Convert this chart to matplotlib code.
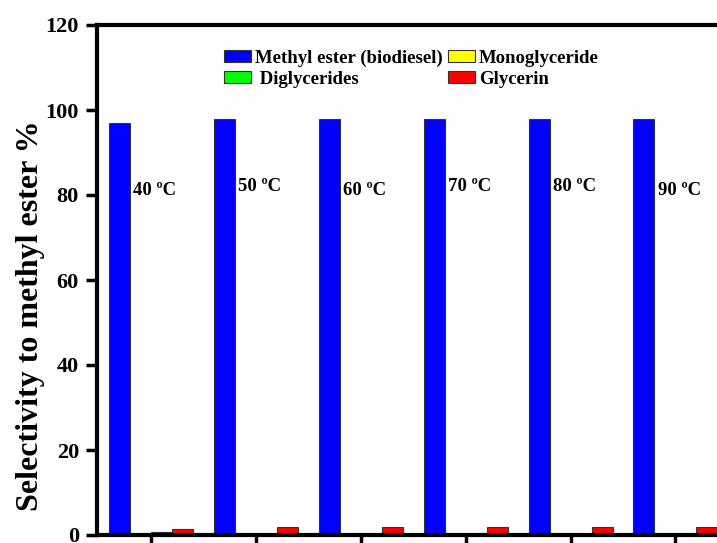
import matplotlib
matplotlib.use("Agg")
import matplotlib.pyplot as plt
import numpy as np

plt.rcParams['font.family'] = ['Liberation Serif', 'DejaVu Serif']
plt.rcParams['font.weight'] = 'bold'

temps = ['40 ºC', '50 ºC', '60 ºC', '70 ºC', '80 ºC', '90 ºC']
methyl_ester = [97, 98, 98, 98, 98, 98]
monoglyceride = [0, 0, 0, 0, 0, 0]
diglycerides = [0.6, 0, 0, 0, 0, 0]
glycerin = [1.3, 1.9, 1.9, 1.9, 1.9, 1.9]
label_y = [81, 82, 81, 82, 82, 81]

series = [
    ('Methyl ester (biodiesel)', methyl_ester, '#0000ff'),
    ('Monoglyceride', monoglyceride, '#ffff00'),
    (' Diglycerides', diglycerides, '#00ff00'),
    ('Glycerin', glycerin, '#ff0000'),
]

fig = plt.figure(figsize=(7.17, 5.43), dpi=100)
ax = fig.add_axes([97 / 717, 8 / 543, 1.0 - 97 / 717 + 0.002, 510 / 543])

x = np.arange(len(temps))
w = 0.2
handles = {}
for i, (name, vals, col) in enumerate(series):
    h = ax.bar(x + (i - 1.5) * w, vals, w, color=col, edgecolor='#333333',
               linewidth=0.8, label=name)
    handles[name] = h

for xi, t, ly in zip(x, temps, label_y):
    ax.text(xi - w + 0.03, ly, t, fontsize=13.5, fontweight='bold',
            ha='left', va='center')

ax.set_xlim(-0.516, 5.41)
ax.set_ylim(0, 120)
ax.set_yticks(np.arange(0, 121, 20))
ax.set_xticks(x)
ax.set_xticklabels([])
ax.tick_params(axis='both', direction='out', width=2.5, length=8,
               labelsize=16, pad=5)
ax.spines['right'].set_visible(False)
for s in ['left', 'top', 'bottom']:
    ax.spines[s].set_linewidth(3)
ax.set_ylabel('Selectivity to methyl ester %', fontsize=23,
              fontweight='bold')
ax.yaxis.set_label_coords(-0.083, 0.43)

order = ['Methyl ester (biodiesel)', ' Diglycerides', 'Monoglyceride', 'Glycerin']
ax.legend([handles[k] for k in order], order, ncol=2, frameon=False,
          fontsize=13.5, loc='upper left', bbox_to_anchor=(0.177, 0.985),
          handlelength=1.45, handleheight=0.65, columnspacing=0.3,
          handletextpad=0.2, labelspacing=0.2)

fig.savefig('out.png', dpi=100)
